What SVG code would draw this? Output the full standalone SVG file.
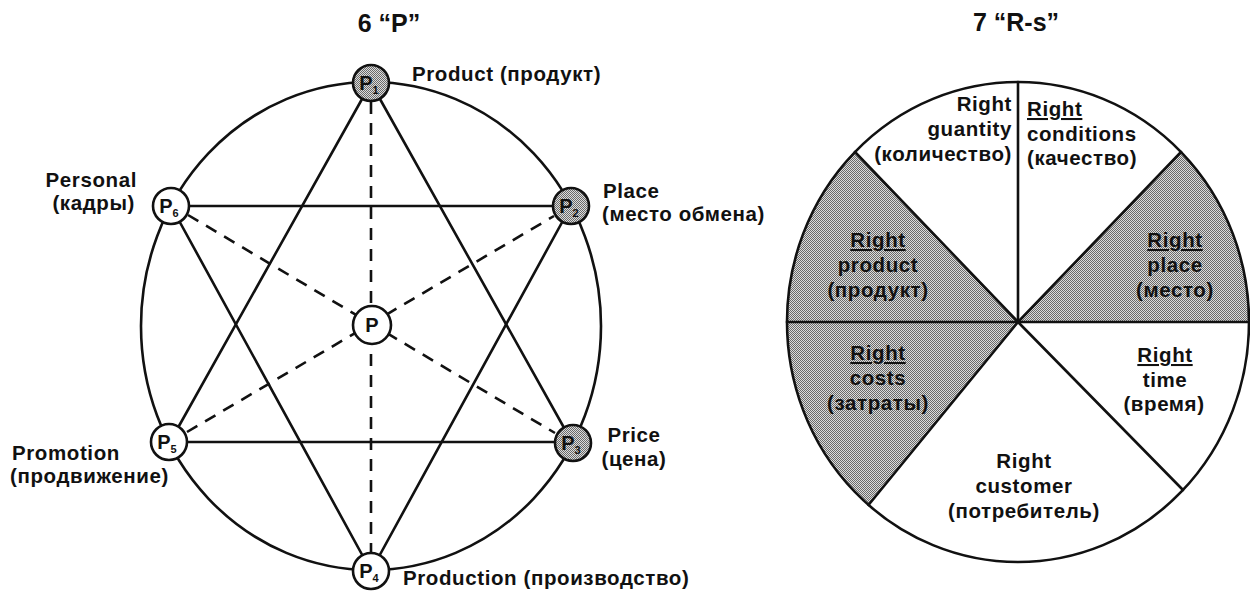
<svg xmlns="http://www.w3.org/2000/svg" width="1250" height="592" viewBox="0 0 1250 592">
<style>
text{font-family:"Liberation Sans",Arial,"DejaVu Sans",sans-serif;font-weight:bold;fill:#111;}
.t{font-size:25px;}
.l{font-size:20.5px;letter-spacing:0.6px;}
.n{font-size:20px;}
.s{font-size:11px;}
.m{text-anchor:middle;}
.e{text-anchor:end;}
.u{text-decoration:underline;}
.edge{stroke:#111;stroke-width:2.6;fill:none;stroke-linecap:round;}
.dash{stroke:#111;stroke-width:2.6;fill:none;stroke-dasharray:12 9;}
.node{stroke:#111;stroke-width:2.6;fill:#fff;}
.shade{stroke:#111;stroke-width:2.6;fill:url(#stip);}
.sect{fill:url(#stip);stroke:none;}
</style>
<defs>
<pattern id="stip" width="2" height="2" patternUnits="userSpaceOnUse">
<rect width="2" height="2" fill="#dcdcdc"/>
<rect width="1" height="1" fill="#6a6a6a"/>
<rect x="1" y="1" width="1" height="1" fill="#6a6a6a"/>
</pattern>
</defs>
<rect width="1250" height="592" fill="#fff"/>

<text class="t m" x="389" y="32">6 “P”</text>
<text class="t m" x="1016" y="31">7 “R-s”</text>

<g id="six-p">
<ellipse class="edge" cx="371" cy="326" rx="230" ry="244"/>
<g id="connectors">
<line class="edge" x1="371" y1="83" x2="170" y2="442"/>
<line class="edge" x1="371" y1="83" x2="572" y2="442"/>
<line class="edge" x1="170" y1="442" x2="572" y2="442"/>
<line class="edge" x1="171" y1="206" x2="571" y2="206"/>
<line class="edge" x1="171" y1="206" x2="371" y2="571"/>
<line class="edge" x1="571" y1="206" x2="371" y2="571"/>
<line class="dash" x1="371" y1="102" x2="371" y2="552"/>
<line class="dash" x1="188" y1="215" x2="555" y2="433"/>
<line class="dash" x1="187" y1="432" x2="554" y2="216"/>
</g>
<g id="p1"><circle class="shade" cx="371" cy="83" r="18"/><text class="n m" x="369" y="90">P<tspan class="s" dy="4">1</tspan></text></g>
<g id="p2"><circle class="shade" cx="571" cy="206" r="18"/><text class="n m" x="569" y="213">P<tspan class="s" dy="4">2</tspan></text></g>
<g id="p3"><circle class="shade" cx="573" cy="443" r="18"/><text class="n m" x="571" y="450">P<tspan class="s" dy="4">3</tspan></text></g>
<g id="p4"><circle class="node" cx="371" cy="571" r="18"/><text class="n m" x="369" y="578">P<tspan class="s" dy="4">4</tspan></text></g>
<g id="p5"><circle class="node" cx="169" cy="442" r="18"/><text class="n m" x="167" y="449">P<tspan class="s" dy="4">5</tspan></text></g>
<g id="p6"><circle class="node" cx="171" cy="206" r="18"/><text class="n m" x="169" y="213">P<tspan class="s" dy="4">6</tspan></text></g>
<g id="p"><circle class="node" cx="372" cy="325" r="19"/><text class="n m" x="372" y="332">P</text></g>

<text class="l" x="412" y="81">Product (продукт)</text>
<text class="l e" x="137" y="187">Personal</text>
<text class="l e" x="135" y="210">(кадры)</text>
<text class="l" x="603" y="198">Place</text>
<text class="l" x="602" y="221">(место обмена)</text>
<text class="l" x="12" y="460">Promotion</text>
<text class="l" x="10" y="483">(продвижение)</text>
<text class="l m" x="634" y="442">Price</text>
<text class="l m" x="634" y="466">(цена)</text>
<text class="l" x="403" y="585">Production (производство)</text>
</g>

<g id="seven-r">
<path class="sect" d="M1018 322 L1249 322 A231 240 0 0 0 1181 152 Z"/>
<path class="sect" d="M1018 322 L855 152 A231 240 0 0 0 787 322 Z"/>
<path class="sect" d="M1018 322 L787 322 A231 240 0 0 0 868.5 505 Z"/>
<ellipse class="edge" cx="1018" cy="322" rx="231" ry="240" stroke-width="3"/>
<g id="pie-lines">
<line class="edge" x1="1018" y1="322" x2="1018" y2="82"/>
<line class="edge" x1="1018" y1="322" x2="855" y2="152"/>
<line class="edge" x1="1018" y1="322" x2="1181" y2="152"/>
<line class="edge" x1="787" y1="322" x2="1249" y2="322"/>
<line class="edge" x1="1018" y1="322" x2="868.5" y2="505"/>
<line class="edge" x1="1018" y1="322" x2="1183" y2="490"/>
</g>
<g id="r-quantity">
<text class="l e" x="1012" y="111">Right</text>
<text class="l e" x="1012" y="136">guantity</text>
<text class="l e" x="1012" y="161">(количество)</text>
</g>
<g id="r-conditions">
<text class="l u" x="1027" y="116">Right</text>
<text class="l" x="1027" y="141">conditions</text>
<text class="l" x="1027" y="165">(качество)</text>
</g>
<g id="r-product">
<text class="l m u" x="878" y="247">Right</text>
<text class="l m" x="878" y="272">product</text>
<text class="l m" x="878" y="297">(продукт)</text>
</g>
<g id="r-place">
<text class="l m u" x="1175" y="247">Right</text>
<text class="l m" x="1175" y="272">place</text>
<text class="l m" x="1175" y="297">(место)</text>
</g>
<g id="r-costs">
<text class="l m u" x="878" y="360">Right</text>
<text class="l m" x="878" y="385">costs</text>
<text class="l m" x="878" y="410">(затраты)</text>
</g>
<g id="r-time">
<text class="l m u" x="1165" y="362">Right</text>
<text class="l m" x="1165" y="387">time</text>
<text class="l m" x="1164" y="411">(время)</text>
</g>
<g id="r-customer">
<text class="l m" x="1024" y="468">Right</text>
<text class="l m" x="1024" y="493">customer</text>
<text class="l m" x="1024" y="518">(потребитель)</text>
</g>
</g>
</svg>
